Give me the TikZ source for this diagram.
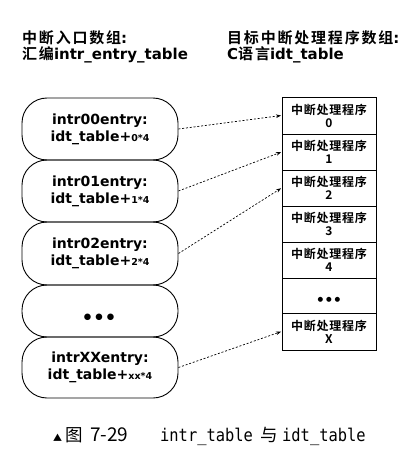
\documentclass[tikz,border=0pt]{standalone}
\usepackage{fontspec}
\usetikzlibrary{arrows.meta}
\newfontfamily\hdcjk[LetterSpace=12]{Noto Sans CJK SC Bold}
\newfontfamily\hdlat{DejaVu Sans Bold}
\newfontfamily\boxfont{DejaVu Sans Bold}
\newfontfamily\tabcjk[LetterSpace=6]{Noto Sans CJK SC Bold}
\newfontfamily\capmono[FakeStretch=0.88]{DejaVu Sans Mono}
\newfontfamily\capcjk{Noto Sans CJK SC}
\newfontfamily\dotfont{DejaVu Sans}
\begin{document}
\begin{tikzpicture}[x=1pt,y=-1pt,
  entrybox/.style={draw, line width=0.9pt, rounded corners=25pt, minimum width=156pt,
    inner sep=0pt, align=center, font=\boxfont\fontsize{14}{17}\selectfont},
  cell/.style={draw, line width=0.9pt, minimum width=94pt, inner sep=0pt, align=center,
    font=\tabcjk\fontsize{12}{13}\selectfont},
  hdtext/.style={anchor=base west, inner sep=0pt, font=\fontsize{15}{15}\selectfont},
  link/.style={line width=0.7pt, dash pattern=on 2pt off 1.8pt,
    -{Stealth[length=5pt,width=3.6pt]}, shorten >=0.5pt}
]
\useasboundingbox (0,0) rectangle (417,470);

% headers
\node[hdtext] (h1) at (22,44) {{\hdcjk 中断入口数组}{\hdlat :}};
\node[hdtext] (h2) at (22,60) {{\hdcjk 汇编}{\hdlat intr\_entry\_table}};
\node[hdtext] (h3) at (227,44) {{\hdcjk 目标中断处理程序数组}{\hdlat :}};
\node[hdtext] (h4) at (227,60) {{\hdlat C}{\hdcjk 语言}{\hdlat idt\_table}};

% left entry boxes
\node[entrybox, minimum height=62pt] (b0) at (100,129) {intr00entry:\\idt\_table+{\fontsize{9.5}{10}\selectfont 0*4}};
\node[entrybox, minimum height=62pt] (b1) at (100,191) {intr01entry:\\idt\_table+{\fontsize{9.5}{10}\selectfont 1*4}};
\node[entrybox, minimum height=63pt] (b2) at (100,253.5) {intr02entry:\\idt\_table+{\fontsize{9.5}{10}\selectfont 2*4}};
\node[entrybox, minimum height=52pt] (b3) at (100,311) {};
\node[inner sep=0pt, font=\dotfont\fontsize{8.5}{8.5}\selectfont] (d1) at (99,317)
  {\makebox[11.5pt]{●}\makebox[11.5pt]{●}\makebox[11.5pt]{●}};
\node[entrybox, minimum height=61pt] (b4) at (100,367.5) {intrXXentry:\\idt\_table+{\fontsize{9.5}{10}\selectfont xx*4}};

% right table
\node[cell, minimum height=37pt] (t0) at (329,115.5) {中断处理程序\\0};
\node[cell, minimum height=36pt] (t1) at (329,152) {中断处理程序\\1};
\node[cell, minimum height=36pt] (t2) at (329,188) {中断处理程序\\2};
\node[cell, minimum height=36pt] (t3) at (329,224) {中断处理程序\\3};
\node[cell, minimum height=36pt] (t4) at (329,260) {中断处理程序\\4};
\node[cell, minimum height=35pt] (t5) at (329,295.5) {};
\node[inner sep=0pt, font=\dotfont\fontsize{6.5}{6.5}\selectfont] (d2) at (329,300)
  {\makebox[8.5pt]{●}\makebox[8.5pt]{●}\makebox[8.5pt]{●}};
\node[cell, minimum height=37pt] (tx) at (329,331.5) {中断处理程序\\X};

% links
\draw[link] (b0.east) -- (t0.west);
\draw[link] (b1.east) -- (t1.west);
\draw[link] (b2.east) -- (t2.west);
\draw[link] (b4.east) -- (tx.west);

% caption
\node[anchor=base west, inner sep=0pt] (cap) at (53,441)
  {\makebox[12pt][l]{\capcjk\fontsize{9}{9}\selectfont ▲}%
   \makebox[25pt][l]{\capcjk\fontsize{17.5}{17.5}\selectfont 图}%
   \makebox[70pt][l]{\capcjk\fontsize{19}{19}\selectfont 7-29}%
   \makebox[100pt][l]{\capmono\fontsize{17.5}{17.5}\selectfont intr\_table}%
   \makebox[22pt][l]{\capcjk\fontsize{17.5}{17.5}\selectfont 与}%
   {\capmono\fontsize{17.5}{17.5}\selectfont idt\_table}};
\end{tikzpicture}
\end{document}
